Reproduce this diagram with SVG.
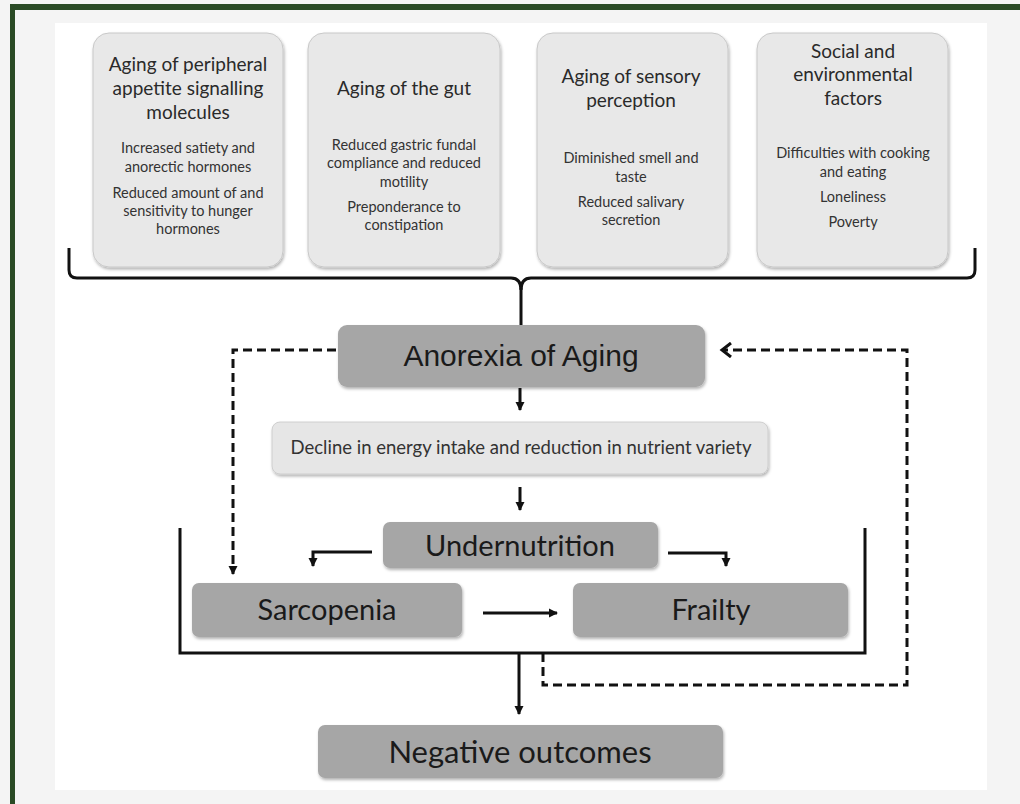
<svg xmlns="http://www.w3.org/2000/svg" width="1020" height="804" viewBox="0 0 1020 804">
<style>
.tb{fill:#e8e8e8;stroke:#c8c8c8;stroke-width:1;filter:url(#sh)}
.db{fill:#a6a6a6;filter:url(#sh)}
.lb{fill:#e6e6e6;stroke:#c8c8c8;stroke-width:0.8;filter:url(#sh)}
.tt{font-family:Lato,"Open Sans",sans-serif;font-size:19px;fill:#2a2a2a;text-anchor:middle}
.st{font-family:Lato,"Open Sans",sans-serif;font-size:14.5px;fill:#333;text-anchor:middle}
.big{font-family:Lato,"Open Sans",sans-serif;font-size:29px;fill:#1a1a1a;text-anchor:middle}
.ar{font-family:"Liberation Sans",Arial,sans-serif;font-size:30px;fill:#1a1a1a;text-anchor:middle}
.sol{fill:none;stroke:#111;stroke-width:3}
.das{fill:none;stroke:#111;stroke-width:3;stroke-dasharray:9 5}
</style>
<defs>
<filter id="sh" x="-5%" y="-5%" width="112%" height="120%">
<feDropShadow dx="1" dy="2" stdDeviation="1.5" flood-color="#000" flood-opacity="0.3"/>
</filter>
<marker id="ah" markerWidth="10" markerHeight="10" refX="8" refY="5" orient="auto" markerUnits="userSpaceOnUse">
<path d="M0,0.5 L9,5 L0,9.5 Z" fill="#111"/>
</marker>
<marker id="ao" markerWidth="14" markerHeight="16" refX="11" refY="8" orient="auto" markerUnits="userSpaceOnUse">
<path d="M2,1 L11,8 L2,15" fill="none" stroke="#111" stroke-width="3"/>
</marker>
</defs>
<rect width="1020" height="804" fill="#f4f4f4"/>
<rect x="10" y="4" width="1010" height="6" fill="#2a4a25"/>
<rect x="10" y="4" width="5" height="800" fill="#2a4a25"/>
<rect x="55" y="23" width="932" height="767" fill="#ffffff"/>

<g id="box1">
<rect class="tb" x="93" y="33" width="190" height="234" rx="16"/>
<text class="tt" x="188" y="71">Aging of peripheral</text>
<text class="tt" x="188" y="95">appetite signalling</text>
<text class="tt" x="188" y="119">molecules</text>
<text class="st" x="188" y="153">Increased satiety and</text>
<text class="st" x="188" y="172">anorectic hormones</text>
<text class="st" x="188" y="198">Reduced amount of and</text>
<text class="st" x="188" y="216">sensitivity to hunger</text>
<text class="st" x="188" y="234">hormones</text>
</g>
<g id="box2">
<rect class="tb" x="308" y="33" width="192" height="234" rx="16"/>
<text class="tt" x="404" y="95">Aging of the gut</text>
<text class="st" x="404" y="150">Reduced gastric fundal</text>
<text class="st" x="404" y="168">compliance and reduced</text>
<text class="st" x="404" y="187">motility</text>
<text class="st" x="404" y="212">Preponderance to</text>
<text class="st" x="404" y="230">constipation</text>
</g>
<g id="box3">
<rect class="tb" x="537" y="33" width="191" height="234" rx="16"/>
<text class="tt" x="631" y="83">Aging of sensory</text>
<text class="tt" x="631" y="107">perception</text>
<text class="st" x="631" y="163">Diminished smell and</text>
<text class="st" x="631" y="182">taste</text>
<text class="st" x="631" y="207">Reduced salivary</text>
<text class="st" x="631" y="225">secretion</text>
</g>
<g id="box4">
<rect class="tb" x="757" y="33" width="191" height="234" rx="16"/>
<text class="tt" x="853" y="58">Social and</text>
<text class="tt" x="853" y="81">environmental</text>
<text class="tt" x="853" y="105">factors</text>
<text class="st" x="853" y="158">Difficulties with cooking</text>
<text class="st" x="853" y="177">and eating</text>
<text class="st" x="853" y="202">Loneliness</text>
<text class="st" x="853" y="227">Poverty</text>
</g>

<g id="anorexia">
<rect class="db" x="338" y="325" width="367" height="62" rx="9"/>
<text class="ar" x="521" y="366">Anorexia of Aging</text>
</g>
<g id="decline">
<rect class="lb" x="272" y="422" width="496" height="52" rx="8"/>
<text class="st" style="font-size:18.5px" x="521" y="454">Decline in energy intake and reduction in nutrient variety</text>
</g>
<g id="undernutrition">
<rect class="db" x="383" y="522" width="275" height="46" rx="7"/>
<text class="big" x="520" y="556">Undernutrition</text>
</g>
<g id="sarcopenia">
<rect class="db" x="192" y="583" width="270" height="54" rx="7"/>
<text class="big" x="327" y="620">Sarcopenia</text>
</g>
<g id="frailty">
<rect class="db" x="573" y="583" width="275" height="54" rx="7"/>
<text class="big" x="711" y="620">Frailty</text>
</g>
<g id="negative">
<rect class="db" x="318" y="725" width="405" height="53" rx="7"/>
<text class="big" style="font-size:31px" x="520" y="763">Negative outcomes</text>
</g>

<g id="connectors">
<path class="sol" d="M69,248 V270 Q69,278 77,278 H511 Q521,278 521,290 Q521,278 531,278 H967 Q975,278 975,270 V248"/>
<path class="sol" d="M521,288 V325"/>
<path class="sol" d="M520,388 V410" marker-end="url(#ah)"/>
<path class="sol" d="M520,487 V510" marker-end="url(#ah)"/>
<path class="sol" d="M372,552 H313 V566" marker-end="url(#ah)"/>
<path class="sol" d="M668,553 H726 V566" marker-end="url(#ah)"/>
<path class="sol" d="M483,613 H557" marker-end="url(#ah)"/>
<path class="sol" d="M180,528 V653 H865 V528"/>
<path class="sol" d="M519,653 V714" marker-end="url(#ah)"/>
<path class="das" d="M336,350 H233 V574" marker-end="url(#ah)"/>
<path class="das" d="M543,653 V685 H907 V350 H722" marker-end="url(#ao)"/>
</g>
</svg>
